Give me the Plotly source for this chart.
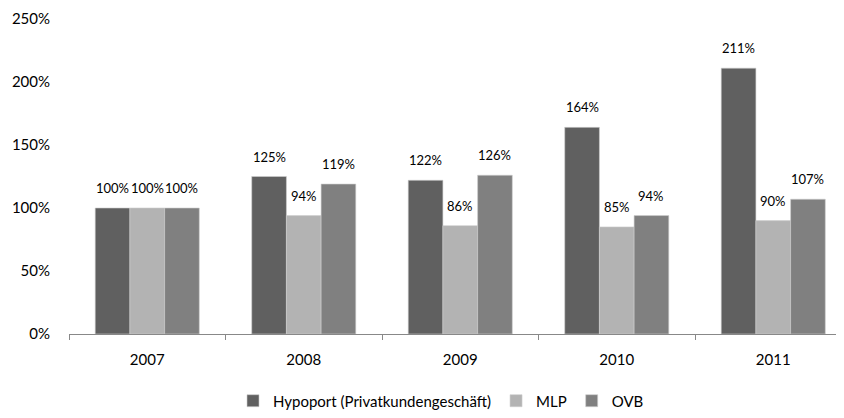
import plotly.graph_objects as go

years = ["2007", "2008", "2009", "2010", "2011"]
hypoport = [100, 125, 122, 164, 211]
mlp = [100, 94, 86, 85, 90]
ovb = [100, 119, 126, 94, 107]
series_names = ["Hypoport (Privatkundengeschäft)", "MLP", "OVB"]
colors = ["#606060", "#b3b3b3", "#808080"]
ytick_vals = [0, 50, 100, 150, 200, 250]
ytick_text = ["0%", "50%", "100%", "150%", "200%", "250%"]

FONT = "Lato, Noto Sans, sans-serif"
bar_px = 34.7  # approximate pixel width of one bar, used to offset labels

fig = go.Figure()
annotations = []
for i, (name, vals, col) in enumerate(zip(series_names, [hypoport, mlp, ovb], colors)):
    fig.add_trace(go.Bar(
        x=years, y=vals, name=name,
        marker=dict(color=col, line=dict(color="#cfcfcf", width=0.6)),
    ))
    for j, v in enumerate(vals):
        annotations.append(dict(
            x=j, y=v, xref="x", yref="y", text=f"{v}%", showarrow=False,
            xshift=(i - 1) * bar_px, yshift=20, yanchor="middle", xanchor="center",
            font=dict(family=FONT, size=13, color="#000000"),
        ))

# the page body has an 8px default margin; figure size and margins compensate for it
fig.update_layout(
    width=836, height=410,
    margin=dict(l=61, r=0, t=11, b=79),
    paper_bgcolor="white", plot_bgcolor="white",
    font=dict(family=FONT, size=15, color="#000000"),
    barmode="group", bargap=0.335, bargroupgap=0,
    showlegend=True,
    legend=dict(orientation="h", x=0.48, xanchor="center", y=-0.2125, yanchor="middle",
                font=dict(family=FONT, size=15), itemwidth=30, traceorder="normal"),
    annotations=annotations,
)
fig.update_xaxes(
    type="category", range=[-0.5, 4.452], automargin=False,
    showline=True, linecolor="#888888", linewidth=1,
    ticks="outside", tickson="boundaries", ticklen=5, tickcolor="#888888",
    showgrid=False, tickfont=dict(family=FONT, size=15), ticklabelstandoff=12,
)
fig.update_yaxes(
    range=[0, 250], tickvals=ytick_vals, ticktext=ytick_text, automargin=False,
    showgrid=False, showline=False, zeroline=False, ticks="",
    tickfont=dict(family=FONT, size=15), ticklabelstandoff=18,
)
fig.write_html("out.html", config={"displayModeBar": False})
